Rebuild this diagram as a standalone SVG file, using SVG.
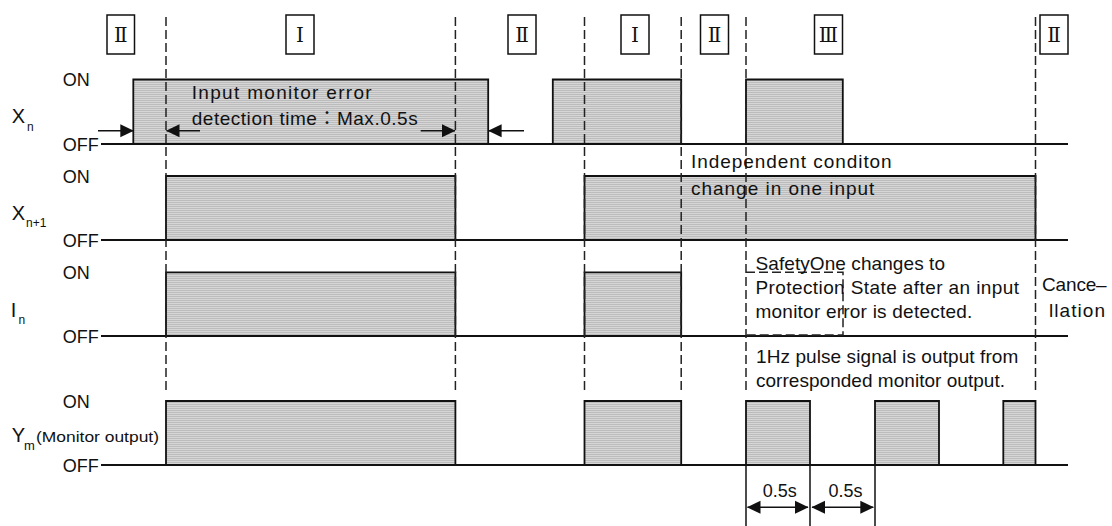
<svg xmlns="http://www.w3.org/2000/svg" width="1112" height="526" viewBox="0 0 1112 526">
<style>
.t{font-family:"Liberation Sans","Noto Sans CJK JP",sans-serif;font-size:18px;fill:#111}
.a{font-size:19px}
.big{font-size:20px}
.sub{font-size:12px}
.rn{font-family:"DejaVu Serif","Liberation Serif",serif;font-size:20px;fill:#111;text-anchor:middle}
.box{fill:#fff;stroke:#111;stroke-width:1.5}
.pulse{fill:url(#hatch);stroke:#111;stroke-width:1.8;stroke-linejoin:miter}
.base{stroke:#111;stroke-width:1.8;fill:none}
.dash{stroke:#222;stroke-width:1.5;stroke-dasharray:9 4;fill:none}
.arr{stroke:#111;stroke-width:1.6;fill:none}
.dim{stroke:#111;stroke-width:1.5;fill:none}
</style>
<defs>
<pattern id="hatch" width="4" height="2" patternUnits="userSpaceOnUse">
<rect width="4" height="2" fill="#d6d6d6"/><rect width="4" height="1" fill="#bcbcbc"/>
</pattern>
<marker id="ah" markerWidth="14" markerHeight="14" refX="13" refY="7" orient="auto-start-reverse" markerUnits="userSpaceOnUse">
<path d="M0,0.5 L13.5,7 L0,13.5 Z" fill="#111"/>
</marker>
</defs>
<rect width="1112" height="526" fill="#fff"/>

<g id="phase-labels">
<rect class="box" x="107" y="15" width="27.5" height="39"/><text class="rn" x="120.7" y="42">Ⅱ</text>
<rect class="box" x="286" y="15" width="28" height="39"/><text class="rn" x="300" y="42">Ⅰ</text>
<rect class="box" x="508" y="15" width="28" height="39"/><text class="rn" x="522" y="42">Ⅱ</text>
<rect class="box" x="621" y="15" width="28" height="39"/><text class="rn" x="635" y="42">Ⅰ</text>
<rect class="box" x="700.5" y="15" width="28" height="39"/><text class="rn" x="714.5" y="42">Ⅱ</text>
<rect class="box" x="814.5" y="15" width="28" height="39"/><text class="rn" x="828.5" y="42">Ⅲ</text>
<rect class="box" x="1040" y="15" width="28" height="39"/><text class="rn" x="1054" y="42">Ⅱ</text>
</g>

<g id="signal-Xn">
<text class="t big" x="11.7" y="123">X</text><text class="t sub" x="27" y="131">n</text>
<text class="t" x="62.7" y="86">ON</text><text class="t" x="62.7" y="150.5">OFF</text>
<path class="pulse" d="M133.3,144 V79.5 H488.2 V144"/>
<path class="pulse" d="M552.8,144 V79.5 H681.2 V144"/>
<path class="pulse" d="M746,144 V79.5 H842.8 V144"/>
<line class="base" x1="101" y1="144" x2="1068" y2="144"/>
</g>

<g id="signal-Xn1">
<text class="t big" x="11.7" y="219.5">X</text><text class="t sub" x="26" y="227">n+1</text>
<text class="t" x="62.7" y="182.5">ON</text><text class="t" x="62.7" y="246.5">OFF</text>
<path class="pulse" d="M166,240 V176 H455.4 V240"/>
<path class="pulse" d="M584.5,240 V176 H1035.5 V240"/>
<line class="base" x1="101" y1="240" x2="1068" y2="240"/>
</g>

<g id="signal-In">
<text class="t big" x="10.7" y="316.5">I</text><text class="t sub" x="18.5" y="324">n</text>
<text class="t" x="62.7" y="278.5">ON</text><text class="t" x="62.7" y="342.5">OFF</text>
<path class="pulse" d="M166,336 V272.3 H455.4 V336"/>
<path class="pulse" d="M584.5,336 V272.3 H681.2 V336"/>
<line class="base" x1="101" y1="336" x2="1068" y2="336"/>
</g>

<g id="signal-Ym">
<text class="t big" x="11.7" y="442">Y</text><text class="t" x="24" y="450" style="font-size:13px">m</text>
<text class="t" x="36" y="442" style="font-size:15px" textLength="123" lengthAdjust="spacingAndGlyphs">(Monitor output)</text>
<text class="t" x="62.7" y="407.5">ON</text><text class="t" x="62.7" y="471.5">OFF</text>
<path class="pulse" d="M166,465 V401 H455.4 V465"/>
<path class="pulse" d="M584.5,465 V401 H681.2 V465"/>
<path class="pulse" d="M746,465 V401 H810 V465"/>
<path class="pulse" d="M875,465 V401 H939 V465"/>
<path class="pulse" d="M1003.3,465 V401 H1035.5 V465"/>
<line class="base" x1="101" y1="465" x2="1068" y2="465"/>
</g>

<g id="connectors">
<line class="dash" x1="166" y1="17" x2="166" y2="393"/>
<line class="dash" x1="455.4" y1="17" x2="455.4" y2="393"/>
<line class="dash" x1="584.5" y1="17" x2="584.5" y2="393"/>
<line class="dash" x1="681.2" y1="17" x2="681.2" y2="393"/>
<line class="dash" x1="746" y1="17" x2="746" y2="393"/>
<line class="dash" x1="1035.5" y1="17" x2="1035.5" y2="393"/>
<path class="dash" d="M746,272.3 H843 V335 H746"/>
<line class="arr" x1="98" y1="130.7" x2="133.3" y2="130.7" marker-end="url(#ah)"/>
<line class="arr" x1="200" y1="130.7" x2="166.5" y2="130.7" marker-end="url(#ah)"/>
<line class="arr" x1="420.7" y1="130.7" x2="455" y2="130.7" marker-end="url(#ah)"/>
<line class="arr" x1="524" y1="130.7" x2="488.6" y2="130.7" marker-end="url(#ah)"/>
<line class="dim" x1="746" y1="465" x2="746" y2="526"/>
<line class="dim" x1="810" y1="465" x2="810" y2="526"/>
<line class="dim" x1="875" y1="465" x2="875" y2="526"/>
<line class="arr" x1="747.5" y1="507.3" x2="808" y2="507.3" marker-start="url(#ah)" marker-end="url(#ah)"/>
<line class="arr" x1="812" y1="507.3" x2="873.3" y2="507.3" marker-start="url(#ah)" marker-end="url(#ah)"/>
</g>

<g id="annotations">
<text class="t a" x="191.7" y="99" textLength="180" lengthAdjust="spacing">Input monitor error</text>
<text class="t a" x="191.7" y="125" textLength="226" lengthAdjust="spacing">detection time：Max.0.5s</text>
<text class="t a" x="691" y="168.3" textLength="200.7" lengthAdjust="spacing">Independent conditon</text>
<text class="t a" x="691" y="195" textLength="183.4" lengthAdjust="spacing">change in one input</text>
<text class="t a" x="755.5" y="270" textLength="189.5" lengthAdjust="spacing">SafetyOne changes to</text>
<text class="t a" x="755.5" y="294" textLength="263.5" lengthAdjust="spacing">Protection State after an input</text>
<text class="t a" x="755.5" y="318" textLength="216.8" lengthAdjust="spacing">monitor error is detected.</text>
<text class="t a" x="1042" y="291" textLength="64.7" lengthAdjust="spacing">Cance–</text>
<text class="t a" x="1049" y="316.7" textLength="56" lengthAdjust="spacing">llation</text>
<text class="t a" x="756" y="362.7" textLength="262.3" lengthAdjust="spacing">1Hz pulse signal is output from</text>
<text class="t a" x="756" y="386.7" textLength="249" lengthAdjust="spacing">corresponded monitor output.</text>
<text class="t" x="779.7" y="497" text-anchor="middle">0.5s</text>
<text class="t" x="845.5" y="497" text-anchor="middle">0.5s</text>
</g>
</svg>
